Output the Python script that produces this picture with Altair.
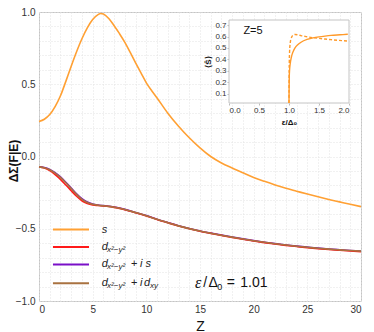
import altair as alt
import pandas as pd

# ---------------- data ----------------
Z_S = [0, 0.5, 1, 1.5, 2, 2.5, 3, 3.5, 4, 4.5, 5, 5.5, 5.75, 6, 6.5, 7, 7.5, 8, 8.5, 9, 9.5,
       10, 10.5, 11, 12, 13, 14, 15, 16, 17, 18, 19, 20, 21, 22, 23, 24, 25, 26, 27, 28, 29, 30]
S_VALS = [0.242, 0.258, 0.29, 0.345, 0.42, 0.52, 0.625, 0.725, 0.815, 0.89, 0.948, 0.982, 0.99,
          0.986, 0.955, 0.905, 0.85, 0.79, 0.72, 0.648, 0.578, 0.51, 0.455, 0.405, 0.30, 0.21,
          0.13, 0.06, 0.0, -0.045, -0.08, -0.113, -0.145, -0.172, -0.197, -0.22, -0.24, -0.26,
          -0.279, -0.297, -0.314, -0.331, -0.347]

Z_D = [0, 0.5, 1, 1.5, 2, 2.5, 3, 3.5, 4, 4.5, 5, 5.5, 6, 6.5, 7, 7.5, 8, 9, 10, 11, 12, 13, 14,
       15, 16, 17, 18, 19, 20, 21, 22, 23, 24, 25, 26, 27, 28, 29, 30]
D_RED = [-0.073, -0.08, -0.098, -0.125, -0.158, -0.197, -0.237, -0.275, -0.306, -0.325, -0.335,
         -0.339, -0.342, -0.346, -0.352, -0.359, -0.368, -0.389, -0.411, -0.436, -0.459, -0.481,
         -0.5, -0.517, -0.532, -0.546, -0.56, -0.573, -0.585, -0.596, -0.606, -0.615, -0.623,
         -0.631, -0.638, -0.644, -0.649, -0.654, -0.659]
D_PURPLE = [-0.071, -0.076, -0.089, -0.111, -0.141, -0.178, -0.218, -0.258, -0.292, -0.315, -0.329,
            -0.336, -0.34, -0.344, -0.35, -0.357, -0.366, -0.387, -0.409, -0.434, -0.457, -0.479,
            -0.498, -0.515, -0.53, -0.544, -0.557, -0.57, -0.582, -0.593, -0.603, -0.612, -0.62,
            -0.627, -0.634, -0.64, -0.645, -0.65, -0.654]
D_BROWN = [-0.072, -0.078, -0.092, -0.115, -0.145, -0.182, -0.222, -0.262, -0.296, -0.318, -0.331,
           -0.337, -0.341, -0.345, -0.351, -0.358, -0.367, -0.388, -0.41, -0.435, -0.458, -0.48,
           -0.499, -0.516, -0.531, -0.545, -0.558, -0.571, -0.583, -0.594, -0.604, -0.613, -0.621,
           -0.628, -0.635, -0.641, -0.646, -0.651, -0.655]

# inset (Z = 5)
EPS = [1.0, 1.002, 1.005, 1.01, 1.02, 1.04, 1.07, 1.1, 1.15, 1.2, 1.3, 1.4, 1.5, 1.6, 1.7, 1.8, 1.9, 1.98]
S_SOLID = [0.018, 0.15, 0.25, 0.31, 0.36, 0.42, 0.47, 0.50, 0.53, 0.55, 0.575, 0.588, 0.597, 0.604,
           0.61, 0.614, 0.617, 0.62]
S_DASHED = [0.018, 0.25, 0.38, 0.47, 0.54, 0.59, 0.612, 0.618, 0.615, 0.608, 0.598, 0.59, 0.584,
            0.578, 0.573, 0.568, 0.564, 0.561]

X_TICKS = list(range(0, 31))
Y_TICKS = [round(-1 + 0.1 * i, 1) for i in range(21)]
INSET_X_TICKS = [0.0, 0.5, 1.0, 1.5, 2.0]
INSET_Y_TICKS = [0.1, 0.2, 0.3, 0.4, 0.5, 0.6, 0.7]

# legend (custom, in data coordinates)
LEG_NAMES = ["s", "d", "d+is", "d+idxy"]
LEG_COLORS = ["#FFA033", "#FF1A1A", "#7A10C8", "#A97240"]
LEG_Y = [-0.506, -0.627, -0.747, -0.877]
LEG_X0, LEG_X1 = 1.3, 4.66

IT_TEXT = ["s", "d", "d", "d", "i s", "i", "d"]
IT_Z = [5.84, 5.84, 5.84, 5.84, 9.41, 9.41, 9.79]
IT_Y = [-0.506, -0.627, -0.747, -0.877, -0.747, -0.877, -0.877]
UP_TEXT = ["+", "+"]
UP_Z = [8.57, 8.57]
UP_Y = [-0.747, -0.877]
SUB_TEXT = ["x²−y²", "x²−y²", "x²−y²", "xy"]
SUB_Z = [6.34, 6.34, 6.34, 10.34]
SUB_Y = [-0.627, -0.747, -0.877, -0.877]

EPS_TEXT_Z = [14.54]
EPS_TEXT = ["ε"]
EQ_TEXT = ["/", "Δ", "=", "1.01"]
EQ_Z = [15.3, 15.8, 17.5, 18.75]
EQ_SUB = ["0"]
EQ_SUB_Z = [16.6]
EQ_Y = -0.877

W, H = 322, 289
FONT = "Liberation Sans"

# ---------------- scales / axes ----------------
xs = alt.Scale(domain=[0, 30], nice=False, zero=False)
ys = alt.Scale(domain=[-1, 1], nice=False, zero=False)

main_x_axis = alt.Axis(
    orient="bottom", values=X_TICKS, labelExpr="datum.value % 5 === 0 ? datum.label : ''",
    grid=True, gridColor="#e3e3e3", gridDash=[1, 2], ticks=False, domain=False,
    labelPadding=3, labelFontSize=10, title="Z", titleFontSize=14, titleFontWeight="normal",
    titleY=29, titleBaseline="alphabetic")
main_y_axis = alt.Axis(
    orient="left", values=Y_TICKS,
    labelExpr="abs(datum.value*2 - round(datum.value*2)) < 0.001 ? format(datum.value, '.1f') : ''",
    grid=True, gridColor="#e3e3e3", gridDash=[1, 2], ticks=False, domain=False,
    labelPadding=4, labelFontSize=10, title="ΔΣ(F|E)", titleFontSize=12, titleFontWeight="bold",
    titleX=-26, titleY=H / 2 + 4, titleBaseline="middle", titleAngle=-90)

df_s = pd.DataFrame({"Z": Z_S, "v": S_VALS})
df_red = pd.DataFrame({"Z": Z_D, "v": D_RED})
df_pur = pd.DataFrame({"Z": Z_D, "v": D_PURPLE})
df_brn = pd.DataFrame({"Z": Z_D, "v": D_BROWN})


def xm():
    return alt.X("Z:Q", scale=xs, axis=None)


def ym(f="v:Q"):
    return alt.Y(f, scale=ys, axis=None)


s_line = alt.Chart(df_s).mark_line(color=LEG_COLORS[0], strokeWidth=1.6, interpolate="monotone").encode(
    x=alt.X("Z:Q", scale=xs, axis=main_x_axis),
    y=alt.Y("v:Q", scale=ys, axis=main_y_axis))


def low_line(df, color):
    return alt.Chart(df).mark_line(color=color, strokeWidth=1.6, interpolate="monotone").encode(
        x=xm(), y=ym())


pur_line = low_line(df_pur, LEG_COLORS[2])
red_line = low_line(df_red, LEG_COLORS[1])
brn_line = low_line(df_brn, LEG_COLORS[3])

leg_df = pd.DataFrame({"name": LEG_NAMES, "y": LEG_Y, "x0": [LEG_X0] * 4, "x1": [LEG_X1] * 4})
leg_lines = alt.Chart(leg_df).mark_rule(strokeWidth=2).encode(
    x=alt.X("x0:Q", scale=xs, axis=None), x2="x1:Q",
    y=ym("y:Q"),
    color=alt.Color("name:N", scale=alt.Scale(domain=LEG_NAMES, range=LEG_COLORS), legend=None))

it_df = pd.DataFrame({"t": IT_TEXT, "Z": IT_Z, "y": IT_Y})
it_text = alt.Chart(it_df).mark_text(align="left", baseline="middle", fontSize=11, fontStyle="italic",
                                     font=FONT, color="#222").encode(x=xm(), y=ym("y:Q"), text="t:N")
up_df = pd.DataFrame({"t": UP_TEXT, "Z": UP_Z, "y": UP_Y})
up_text = alt.Chart(up_df).mark_text(align="left", baseline="middle", fontSize=11, font=FONT,
                                     color="#222").encode(x=xm(), y=ym("y:Q"), text="t:N")
sub_df = pd.DataFrame({"t": SUB_TEXT, "Z": SUB_Z, "y": SUB_Y})
sub_text = alt.Chart(sub_df).mark_text(align="left", baseline="middle", fontSize=8, fontStyle="italic",
                                       font=FONT, color="#222", dy=3).encode(x=xm(), y=ym("y:Q"), text="t:N")

eps_df = pd.DataFrame({"t": EPS_TEXT, "Z": EPS_TEXT_Z, "y": [EQ_Y]})
eps_text = alt.Chart(eps_df).mark_text(align="left", baseline="middle", fontSize=16, fontStyle="italic",
                                       font="Liberation Serif", color="#111").encode(
    x=xm(), y=ym("y:Q"), text="t:N")
eq_df = pd.DataFrame({"t": EQ_TEXT, "Z": EQ_Z, "y": [EQ_Y] * len(EQ_TEXT)})
eq_text = alt.Chart(eq_df).mark_text(align="left", baseline="middle", fontSize=14, font=FONT,
                                     color="#111").encode(x=xm(), y=ym("y:Q"), text="t:N")
eqs_df = pd.DataFrame({"t": EQ_SUB, "Z": EQ_SUB_Z, "y": [EQ_Y]})
eqs_text = alt.Chart(eqs_df).mark_text(align="left", baseline="middle", fontSize=9, font=FONT,
                                       color="#111", dy=4).encode(x=xm(), y=ym("y:Q"), text="t:N")

# ---------------- inset ----------------
ixs = alt.Scale(domain=[0, 2], range=[190, 310], nice=False, zero=False)
iys = alt.Scale(domain=[0.018, 0.745], range=[91, 8], nice=False, zero=False)

inset_x_axis = alt.Axis(orient="bottom", offset=-(H - 91), values=INSET_X_TICKS, format=".1f",
                        labelFontSize=8, labelPadding=1, grid=False, ticks=True, tickSize=2,
                        tickColor="#bbbbbb", domain=False, title="ε/Δ₀", titleFontSize=8,
                        titleFontWeight="bold", titlePadding=4)
inset_y_axis = alt.Axis(orient="left", offset=-190, values=INSET_Y_TICKS, format=".1f",
                        labelFontSize=8, labelPadding=1, grid=False, ticks=True, tickSize=2,
                        tickColor="#bbbbbb", domain=False, title="⟨Ŝ⟩", titleFontSize=8,
                        titleFontWeight="bold", titlePadding=2)

frame = alt.Chart(pd.DataFrame({"a": [0]})).mark_rect(fill="white", stroke="#c4c4c4", strokeWidth=1).encode(
    x=alt.X(datum=0.0, type="quantitative", scale=ixs, axis=None),
    x2=alt.X2(datum=2.0),
    y=alt.Y(datum=0.018, type="quantitative", scale=iys, axis=None),
    y2=alt.Y2(datum=0.745))

df_solid = pd.DataFrame({"eps": EPS, "S": S_SOLID})
df_dash = pd.DataFrame({"eps": EPS, "S": S_DASHED})
solid = alt.Chart(df_solid).mark_line(color="#FF9A2A", strokeWidth=1.4, interpolate="monotone").encode(
    x=alt.X("eps:Q", scale=ixs, axis=inset_x_axis),
    y=alt.Y("S:Q", scale=iys, axis=inset_y_axis))
dashed = alt.Chart(df_dash).mark_line(color="#FF9A2A", strokeWidth=1.4, strokeDash=[3, 2],
                                      interpolate="monotone").encode(
    x=alt.X("eps:Q", scale=ixs, axis=None),
    y=alt.Y("S:Q", scale=iys, axis=None))
ztext = alt.Chart(pd.DataFrame({"t": ["Z=5"], "eps": [0.4], "S": [0.65]})).mark_text(
    fontSize=11, font=FONT, align="center", baseline="middle", color="#111").encode(
    x=alt.X("eps:Q", scale=ixs, axis=None), y=alt.Y("S:Q", scale=iys, axis=None), text="t:N")

chart = alt.layer(
    s_line, pur_line, red_line, brn_line, leg_lines, it_text, up_text, sub_text,
    eps_text, eq_text, eqs_text, frame, solid, dashed, ztext
).resolve_scale(x="independent", y="independent", color="independent").resolve_axis(
    x="independent", y="independent"
).properties(
    width=W, height=H, autosize=alt.AutoSizeParams(type="none"),
    padding={"left": 31, "top": 4, "right": 5, "bottom": 31},
).configure_view(stroke="#c4c4c4", strokeWidth=1).configure_axis(
    labelFont=FONT, titleFont=FONT, labelColor="#333333", titleColor="#111111")

chart.save("out.html", embed_options={"renderer": "svg", "actions": False})
